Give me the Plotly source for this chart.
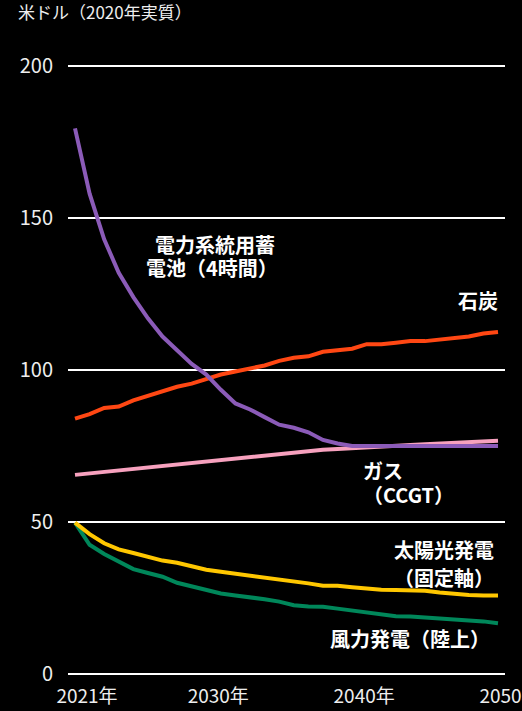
import plotly.graph_objects as go

years = list(range(2021, 2051))

battery = [179.5, 158, 143, 132, 124, 117, 111, 106.5, 102, 98.5,
           93.5, 89, 87, 84.5, 82, 81, 79.5, 77, 75.8, 75,
           75, 75, 75, 75, 75, 75, 75, 75, 75, 75]
coal = [84, 85.5, 87.5, 88, 90, 91.5, 93, 94.5, 95.5, 97,
        98.5, 99.5, 100.5, 101.5, 103, 104, 104.5, 106, 106.5, 107,
        108.5, 108.5, 109, 109.5, 109.5, 110, 110.5, 111, 112, 112.5]
gas = [65.5, 66, 66.5, 66.7, 67.3, 68, 68.5, 69, 69.5, 69.7,
       70.3, 71, 71.3, 71.7, 72.3, 72.8, 73.2, 73.8, 74, 74.2,
       74.4, 74.8, 75, 75.3, 75.6, 75.8, 76, 76.2, 76.4, 76.7]
solar = [49.8, 46, 43, 41, 39.8, 38.6, 37.3, 36.6, 35.5, 34.3,
         33.6, 33, 32.3, 31.7, 31, 30.4, 29.8, 29, 29, 28.5,
         28, 27.7, 27.6, 27.5, 27.4, 26.8, 26.3, 26, 25.8, 25.8]
wind = [49.8, 42.5, 39.5, 37, 34.5, 33.2, 32, 30, 28.8, 27.8,
        26.5, 25.8, 25.3, 24.6, 23.8, 22.6, 22.2, 22.1, 21.5, 20.8,
        20.2, 19.6, 19.0, 18.9, 18.6, 18.1, 17.8, 17.5, 17.3, 16.7]

x_tickvals = [2021, 2030, 2040, 2050]
x_ticktext = ["2021年", "2030年", "2040年", "2050年"]
y_tickvals = [0, 50, 100, 150, 200]

series = [
    ("風力発電（陸上）", wind, "#00875A"),
    ("太陽光発電（固定軸）", solar, "#FFC700"),
    ("ガス（CCGT）", gas, "#F7A1BE"),
    ("石炭", coal, "#FF4713"),
    ("電力系統用蓄電池（4時間）", battery, "#8B5BB8"),
]

FONT = "Noto Sans CJK JP, Noto Sans, sans-serif"

fig = go.Figure()
for name, vals, color in series:
    fig.add_trace(go.Scatter(x=years, y=vals, mode="lines", name=name,
                             line=dict(color=color, width=4)))

# one annotation per text line
labels = [
    ("電力系統用蓄", 2030.6, 141.4, "center"),
    ("電池（4時間）", 2030.4, 133.6, "center"),
    ("石炭", 2048.6, 123.0, "center"),
    ("ガス", 2040.6, 67.1, "left"),
    ("（CCGT）", 2040.6, 58.9, "left"),
    ("太陽光発電", 2046.3, 40.8, "center"),
    ("（固定軸）", 2046.3, 31.9, "center"),
    ("風力発電（陸上）", 2044.0, 11.8, "center"),
]
for text, lx, ly, anchor in labels:
    fig.add_annotation(x=lx, y=ly, text=text, showarrow=False,
                       xanchor=anchor, yanchor="middle",
                       font=dict(family=FONT, size=20, color="white",
                                 weight="bold"))

fig.add_annotation(xref="paper", yref="paper", x=-0.12, y=1.0, yshift=52,
                   text="米ドル（2020年実質）", showarrow=False,
                   xanchor="left", yanchor="middle",
                   font=dict(family=FONT, size=17, color="#eeeeee"))

fig.update_layout(
    width=522, height=711,
    margin=dict(l=68, r=17, t=63, b=34, autoexpand=False),
    paper_bgcolor="black", plot_bgcolor="black",
    showlegend=False,
    font=dict(family=FONT, color="#eeeeee", size=19),
)
fig.update_xaxes(range=[2020.52, 2050.48], tickvals=x_tickvals,
                 ticktext=x_ticktext, showgrid=False, zeroline=False,
                 showline=False, ticks="", ticklabelshift=12,
                 ticklabelstandoff=6, ticklabeloverflow="allow",
                 automargin=False,
                 tickfont=dict(size=19, color="#eeeeee"))
fig.update_yaxes(range=[-1, 201], tickvals=y_tickvals, showgrid=True,
                 gridcolor="white", gridwidth=2, zeroline=False,
                 showline=False, ticks="", ticklabelstandoff=14,
                 automargin=False,
                 tickfont=dict(size=20, color="#eeeeee"))

fig.write_html("out.html")
